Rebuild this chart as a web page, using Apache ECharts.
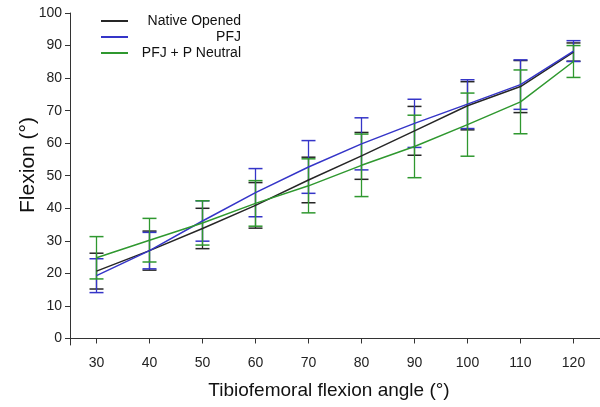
<!DOCTYPE html>
<html>
<head>
<meta charset="utf-8">
<script src="https://cdn.jsdelivr.net/npm/echarts@6/dist/echarts.min.js"></script>
<style>
  html, body { margin: 0; padding: 0; background: #fff; }
  #chart_flexion { width: 600px; height: 407px; }
</style>
</head>
<body>
<div id="chart_flexion"></div>
<script>
// tibiofemoral flexion angle (x)
var angles = [30, 40, 50, 60, 70, 80, 90, 100, 110, 120];
var xTicks = [30, 40, 50, 60, 70, 80, 90, 100, 110, 120];
var yTicks = [0, 10, 20, 30, 40, 50, 60, 70, 80, 90, 100];

// mean and sd
var nativeMean = [20.7, 27.0, 33.8, 40.9, 48.7, 56.1, 63.8, 71.5, 77.4, 88.0];
var nativeSd = [5.5, 6.0, 6.2, 7.0, 7.0, 7.2, 7.5, 7.4, 8.0, 2.8];
var pfjMean = [19.3, 27.0, 36.1, 44.8, 52.7, 59.8, 66.1, 72.0, 78.0, 88.3];
var pfjSd = [5.2, 5.6, 6.2, 7.4, 8.1, 8.0, 7.4, 7.5, 7.6, 3.2];
var neutralMean = [24.8, 30.2, 35.5, 41.5, 46.9, 53.2, 59.0, 65.7, 72.7, 85.1];
var neutralSd = [6.5, 6.7, 6.8, 7.0, 8.3, 9.6, 9.6, 9.7, 9.8, 4.9];

var FONT = '"Liberation Sans", Arial, sans-serif';
var COL_NATIVE = '#262626';
var COL_PFJ = '#3535c8';
var COL_NEUTRAL = '#2f982f';

function lineData(mean) {
    return angles.map(function(a, i) { return [a, mean[i]]; });
}
function barData(mean, sd) {
    return angles.map(function(a, i) { return [a, mean[i] - sd[i], mean[i] + sd[i]]; });
}

function errorBar(name, mean, sd, color) {
    return {
        name: name,
        type: 'custom',
        data: barData(mean, sd),
        encode: { x: 0, y: [1, 2] },
        silent: true,
        renderItem: function(params, api) {
            var x = api.value(0);
            var top = api.coord([x, api.value(2)]);
            var bot = api.coord([x, api.value(1)]);
            var w = 7;
            var st = { stroke: color, lineWidth: 1.5 };
            return {
                type: 'group',
                children: [
                    { type: 'line', shape: { x1: top[0], y1: top[1], x2: bot[0], y2: bot[1] }, style: { stroke: color, lineWidth: 1.3 } },
                    { type: 'line', shape: { x1: top[0] - w, y1: top[1], x2: top[0] + w, y2: top[1] }, style: st },
                    { type: 'line', shape: { x1: bot[0] - w, y1: bot[1], x2: bot[0] + w, y2: bot[1] }, style: st }
                ]
            };
        }
    };
}

function meanLine(name, mean, color) {
    return {
        name: name,
        type: 'line',
        data: lineData(mean),
        showSymbol: false,
        symbol: 'none',
        color: color,
        lineStyle: { color: color, width: 1.5 },
        z: 3
    };
}

var chart = echarts.init(document.getElementById('chart_flexion'));
var option = {
    animation: false,
    backgroundColor: '#fff',
    grid: { left: 70, right: 0, top: 13, bottom: 62 },
    legend: {
        data: ['Native Opened', 'PFJ', 'PFJ + P Neutral'],
        orient: 'vertical',
        left: 101,
        top: 14,
        padding: 0,
        icon: 'rect',
        itemWidth: 27,
        itemHeight: 2,
        itemGap: 2,
        formatter: '{a|{name}}',
        textStyle: {
            rich: {
                a: { width: 108, align: 'right', fontSize: 14, fontFamily: FONT, color: '#111', lineHeight: 14 }
            }
        }
    },
    xAxis: {
        type: 'value',
        min: 25,
        max: 125,
        name: 'Tibiofemoral flexion angle (°)',
        nameLocation: 'middle',
        nameGap: 36,
        nameTextStyle: { fontSize: 19, fontFamily: FONT, color: '#111', padding: [0, 12, 0, 0] },
        axisLine: { lineStyle: { color: '#333', width: 1 } },
        axisTick: { show: true, length: 5, customValues: xTicks, lineStyle: { color: '#333' } },
        axisLabel: { customValues: xTicks, fontSize: 14, fontFamily: FONT, color: '#222', margin: 11 },
        splitLine: { show: false }
    },
    yAxis: {
        type: 'value',
        min: -2,
        max: 100,
        name: 'Flexion (°)',
        nameLocation: 'middle',
        nameGap: 31,
        nameMoveOverlap: false,
        nameTextStyle: { fontSize: 21, fontFamily: FONT, color: '#111', padding: [0, 0, 0, 28] },
        axisLine: { show: true, lineStyle: { color: '#333', width: 1 } },
        axisTick: { show: true, length: 5, customValues: yTicks, lineStyle: { color: '#333' } },
        axisLabel: { customValues: yTicks, fontSize: 14, fontFamily: FONT, color: '#222', margin: 8 },
        splitLine: { show: false }
    },
    series: [
        errorBar('Native Opened SD', nativeMean, nativeSd, COL_NATIVE),
        errorBar('PFJ SD', pfjMean, pfjSd, COL_PFJ),
        errorBar('PFJ + P Neutral SD', neutralMean, neutralSd, COL_NEUTRAL),
        meanLine('Native Opened', nativeMean, COL_NATIVE),
        meanLine('PFJ', pfjMean, COL_PFJ),
        meanLine('PFJ + P Neutral', neutralMean, COL_NEUTRAL)
    ]
};
chart.setOption(option);
</script>
</body>
</html>
